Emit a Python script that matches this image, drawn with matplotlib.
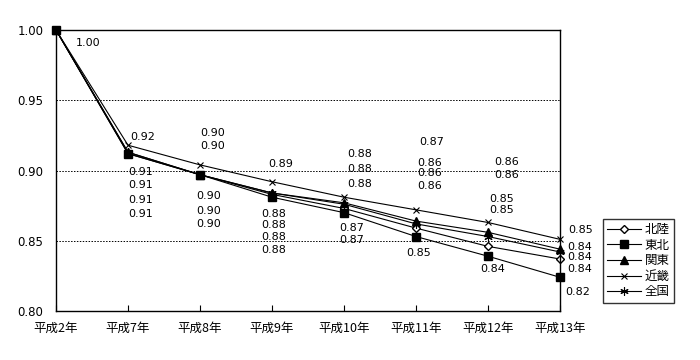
import matplotlib
matplotlib.use("Agg")
import matplotlib.pyplot as plt
import numpy as np

plt.rcParams["font.family"] = ["Noto Sans CJK JP", "DejaVu Sans"]

# data
years = ["平成2年", "平成7年", "平成8年", "平成9年", "平成10年", "平成11年", "平成12年", "平成13年"]
hokuriku = [1.00, 0.912, 0.897, 0.883, 0.873, 0.859, 0.846, 0.837]
tohoku = [1.00, 0.912, 0.897, 0.881, 0.870, 0.853, 0.839, 0.824]
kanto = [1.00, 0.913, 0.897, 0.884, 0.877, 0.864, 0.856, 0.844]
kinki = [1.00, 0.918, 0.904, 0.892, 0.881, 0.872, 0.863, 0.851]
zenkoku = [1.00, 0.913, 0.897, 0.884, 0.876, 0.862, 0.853, 0.842]

series = [
    ("北陸", hokuriku, dict(marker="D", markersize=4.5, markerfacecolor="white")),
    ("東北", tohoku, dict(marker="s", markersize=5.5, markerfacecolor="black")),
    ("関東", kanto, dict(marker="^", markersize=6, markerfacecolor="black")),
    ("近畿", kinki, dict(marker="x", markersize=5, markeredgewidth=0.8)),
    ("全国", zenkoku, dict(marker=(6, 2, 0), markersize=6, markeredgewidth=0.8)),
]

# label slots per category (dx in category units, y in data units), top to bottom
label_slots = [
    [(0.44, 0.9907)],
    [(0.21, 0.9238), (0.18, 0.8989), (0.18, 0.8897), (0.18, 0.8790), (0.18, 0.8690)],
    [(0.17, 0.9267), (0.17, 0.9174), (0.125, 0.8819), (0.125, 0.8712), (0.125, 0.8619)],
    [(0.125, 0.9046), (0.03, 0.8690), (0.03, 0.8612), (0.03, 0.8527), (0.03, 0.8434)],
    [(0.22, 0.9117), (0.22, 0.9011), (0.22, 0.8904), (0.10, 0.8591), (0.10, 0.8505)],
    [(0.22, 0.9203), (0.19, 0.9053), (0.19, 0.8982), (0.19, 0.8890), (0.03, 0.8413)],
    [(0.26, 0.9060), (0.26, 0.8968), (0.19, 0.8797), (0.19, 0.8719), (0.07, 0.8299)],
    [(0.28, 0.8577), (0.28, 0.8456), (0.28, 0.8384), (0.28, 0.8299), (0.24, 0.8135)],
]

fig = plt.figure(figsize=(7, 3.6), dpi=100)
ax = fig.add_axes([56 / 700, 49 / 360, 504 / 700, 281 / 360])

x = np.arange(len(years))
for name, vals, style in series:
    ax.plot(x, vals, color="black", linewidth=0.8, markeredgecolor="black",
            label=name, clip_on=False, **style)

# data labels
for i in range(len(years)):
    vals = sorted([s[1][i] for s in series], reverse=True)
    for (dx, ly), v in zip(label_slots[i], vals):
        ax.text(i + dx, ly, f"{v:.2f}", fontsize=8, ha="center", va="center",
                family=["DejaVu Sans"])

ax.set_xlim(0, len(years) - 1)
ax.set_ylim(0.80, 1.00)
yt = [0.80, 0.85, 0.90, 0.95, 1.00]
ax.set_yticks(yt)
ax.set_yticklabels([f"{t:.2f}" for t in yt], family=["DejaVu Sans"])
ax.set_xticks(x)
ax.set_xticklabels(years)
ax.tick_params(axis="x", direction="in", length=4, pad=8, labelsize=9)
ax.tick_params(axis="y", length=0, pad=9, labelsize=8.5)
ax.yaxis.grid(True, color="black", linestyle=(0, (1.5, 1.5)), linewidth=0.7)
ax.set_axisbelow(True)
for sp in ax.spines.values():
    sp.set_linewidth(1)

leg = fig.legend(loc="upper left", bbox_to_anchor=(603 / 700, 1 - 219 / 360),
                 borderaxespad=0, fontsize=9, frameon=True, fancybox=False,
                 edgecolor="black", handlelength=2.7, borderpad=0.35,
                 labelspacing=0.2, handletextpad=0.3)
leg.get_frame().set_linewidth(1)

fig.savefig("out.png", dpi=100)
